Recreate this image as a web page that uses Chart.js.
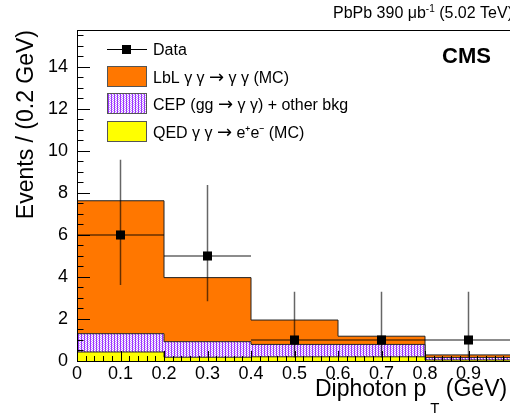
<!DOCTYPE html>
<html>
<head>
<meta charset="utf-8">
<script src="https://cdn.jsdelivr.net/npm/chart.js@4.4.1/dist/chart.umd.min.js"></script>
<style>
html, body { margin: 0; padding: 0; background: #fff; overflow: hidden; }
#wrap { width: 510px; height: 413px; overflow: hidden; }
</style>
</head>
<body>
<div id="wrap"><canvas id="histo" width="520" height="413"></canvas></div>
<script>
// bin edges of the diphoton pT histogram (GeV)
const binEdges = [0, 0.2, 0.4, 0.6, 0.8, 1.0];
// stacked MC contributions (events per bin), bottom to top
const qedValues = [0.43, 0.18, 0.2, 0.2, 0.05];
const cepValues = [0.87, 0.74, 0.59, 0.59, 0.12];
const lblValues = [6.33, 3.05, 1.16, 0.39, 0.12];
// data points with poisson error bars
const dataX = [0.1, 0.3, 0.5, 0.7, 0.9];
const dataY = [6, 5, 1, 1, 1];
const dataLow = [3.62, 2.84, 0.17, 0.17, 0.17];
const dataHigh = [9.58, 8.38, 3.3, 3.3, 3.3];
// axis ticks
const xTicks = [0, 0.1, 0.2, 0.3, 0.4, 0.5, 0.6, 0.7, 0.8, 0.9];
const xTickLabels = ['0', '0.1', '0.2', '0.3', '0.4', '0.5', '0.6', '0.7', '0.8', '0.9'];
const yTicks = [0, 2, 4, 6, 8, 10, 12, 14];
const yTickLabels = ['0', '2', '4', '6', '8', '10', '12', '14'];
const legendLabels = ['Data', 'LbL \u03b3 \u03b3 \u2192 \u03b3 \u03b3 (MC)', 'CEP (gg \u2192 \u03b3 \u03b3) + other bkg', 'QED \u03b3 \u03b3 \u2192 e\u207ae\u207b (MC)'];

const FONT = "'Liberation Sans', Arial, Helvetica, sans-serif";
const ORANGE = '#ff7700';
const YELLOW = '#ffff00';

// ROOT-like purple hatch
function makePattern() {
    const c = document.createElement('canvas');
    c.width = 3; c.height = 2;
    const g = c.getContext('2d');
    const cols = [['#9a35ff', '#ffffff', '#cf9cff'], ['#9a35ff', '#cf9cff', '#ffffff']];
    for (let r = 0; r < 2; r++) {
        for (let k = 0; k < 3; k++) {
            g.fillStyle = cols[r][k];
            g.fillRect(k, r, 1, 1);
        }
    }
    return g.createPattern(c, 'repeat');
}
const purple = makePattern();

function stepPoints(vals) {
    return binEdges.map((x, i) => ({ x: x, y: vals[Math.min(i, vals.length - 1)] }));
}

// legend text with a wider arrow glyph
function drawLabel(ctx, text, x, y) {
    const parts = text.split('\u2192');
    parts.forEach((p, i) => {
        ctx.font = '16px ' + FONT;
        ctx.fillText(p, x, y);
        x += ctx.measureText(p).width;
        if (i < parts.length - 1) {
            ctx.font = "18px 'DejaVu Sans'";
            ctx.fillText('\u2192', x, y);
            x += ctx.measureText('\u2192').width;
        }
    });
}

const histDefaults = {
    type: 'line',
    stepped: true,
    borderColor: '#222',
    borderWidth: 1,
    pointRadius: 0,
    stack: 'mc',
    order: 1
};

// error bars under the data markers
const errorBars = {
    id: 'errorBars',
    beforeDatasetDraw(chart, args) {
        if (args.index !== 3) return;
        const ctx = chart.ctx;
        const x = chart.scales.x, y = chart.scales.y;
        ctx.save();
        ctx.strokeStyle = 'rgba(0,0,0,0.6)';
        ctx.lineWidth = 1.5;
        ctx.beginPath();
        dataX.forEach((v, i) => {
            const px = x.getPixelForValue(v);
            const py = y.getPixelForValue(dataY[i]);
            ctx.moveTo(x.getPixelForValue(v - 0.1), py);
            ctx.lineTo(x.getPixelForValue(v + 0.1), py);
            ctx.moveTo(px, y.getPixelForValue(dataLow[i]));
            ctx.lineTo(px, y.getPixelForValue(dataHigh[i]));
        });
        ctx.stroke();
        ctx.restore();
    }
};

// frame, inward ticks, legend and texts
const decorations = {
    id: 'decorations',
    afterDatasetsDraw(chart) {
        const ctx = chart.ctx;
        const a = chart.chartArea;
        const x = chart.scales.x, y = chart.scales.y;
        ctx.save();
        ctx.strokeStyle = '#000';
        ctx.lineWidth = 1;
        ctx.beginPath();
        ctx.moveTo(a.left + 0.5, a.top + 0.5);
        ctx.lineTo(a.right, a.top + 0.5);
        ctx.moveTo(a.left + 0.5, a.top);
        ctx.lineTo(a.left + 0.5, a.bottom + 0.5);
        ctx.lineTo(a.right, a.bottom + 0.5);
        // x ticks
        for (let v = 0; v <= 1.0001; v += 0.02) {
            const major = Math.abs(v * 10 - Math.round(v * 10)) < 0.001;
            const px = Math.round(x.getPixelForValue(v)) + 0.5;
            ctx.moveTo(px, a.bottom);
            ctx.lineTo(px, a.bottom - (major ? 10 : 5));
        }
        // y ticks
        for (let v = 0; v <= y.max; v += 0.5) {
            const major = v % 2 === 0;
            const py = Math.round(y.getPixelForValue(v)) + 0.5;
            ctx.moveTo(a.left, py);
            ctx.lineTo(a.left + (major ? 13 : 6.5), py);
        }
        ctx.stroke();
        ctx.restore();
    },
    afterDraw(chart) {
        const ctx = chart.ctx;
        ctx.save();
        ctx.fillStyle = '#000';
        ctx.textBaseline = 'alphabetic';

        // legend
        ctx.strokeStyle = '#000';
        ctx.lineWidth = 1;
        ctx.beginPath();
        ctx.moveTo(107, 49.5);
        ctx.lineTo(147, 49.5);
        ctx.stroke();
        ctx.fillRect(122, 45, 9, 9);
        const boxes = [[ORANGE, 66], [purple, 93], [YELLOW, 121]];
        boxes.forEach(([fill, top]) => {
            ctx.fillStyle = fill;
            ctx.fillRect(107, top, 39, 20);
            ctx.strokeStyle = '#555';
            ctx.strokeRect(107.5, top + 0.5, 39, 20);
        });
        ctx.fillStyle = '#000';
        const baselines = [55, 83, 110, 138];
        legendLabels.forEach((t, i) => drawLabel(ctx, t, 153, baselines[i]));

        // CMS label
        ctx.font = 'bold 22px ' + FONT;
        ctx.fillText('CMS', 442, 63);

        // luminosity text
        ctx.font = '16px ' + FONT;
        let tx = 333;
        ctx.fillText('PbPb 390 \u03bcb', tx, 18);
        tx += ctx.measureText('PbPb 390 \u03bcb').width;
        ctx.font = '10px ' + FONT;
        ctx.fillText('-1', tx, 12);
        tx += ctx.measureText('-1').width;
        ctx.font = '16px ' + FONT;
        ctx.fillText(' (5.02 TeV)', tx, 18);

        // x title
        ctx.font = '23px ' + FONT;
        let xx = 315;
        ctx.fillText('Diphoton p', xx, 396);
        xx += ctx.measureText('Diphoton p').width + 4;
        ctx.font = '15px ' + FONT;
        ctx.fillText('T', xx, 413);
        xx += ctx.measureText('T').width;
        ctx.font = '23px ' + FONT;
        ctx.fillText(' (GeV)', xx, 396);

        // y title
        ctx.translate(33, 30);
        ctx.rotate(-Math.PI / 2);
        ctx.textAlign = 'right';
        ctx.fillText('Events / (0.2 GeV)', 0, 0);
        ctx.restore();
    }
};

new Chart(document.getElementById('histo'), {
    type: 'line',
    data: {
        datasets: [
            Object.assign({}, histDefaults, { label: 'QED', data: stepPoints(qedValues), fill: 'origin', backgroundColor: YELLOW }),
            Object.assign({}, histDefaults, { label: 'CEP', data: stepPoints(cepValues), fill: '-1', backgroundColor: purple }),
            Object.assign({}, histDefaults, { label: 'LbL', data: stepPoints(lblValues), fill: '-1', backgroundColor: ORANGE }),
            {
                label: 'Data',
                data: dataX.map((v, i) => ({ x: v, y: dataY[i] })),
                showLine: false,
                pointStyle: 'rect',
                pointRadius: 6.4,
                pointBackgroundColor: '#000',
                pointBorderWidth: 0,
                stack: 'data',
                order: 0
            }
        ]
    },
    options: {
        responsive: false,
        animation: false,
        layout: { padding: { top: 30, right: 8, left: 0, bottom: 0 } },
        plugins: { legend: { display: false }, tooltip: { enabled: false } },
        scales: {
            x: {
                type: 'linear',
                min: 0,
                max: 1.0,
                grid: { display: false, drawTicks: false },
                border: { display: false },
                afterBuildTicks: s => { s.ticks = xTicks.map(v => ({ value: v })); },
                afterFit: s => { s.height = 52; },
                ticks: {
                    color: '#000',
                    font: { family: FONT, size: 18 },
                    padding: 2,
                    maxRotation: 0,
                    autoSkip: false,
                    callback: (v, i) => xTickLabels[i]
                }
            },
            y: {
                type: 'linear',
                stacked: true,
                min: 0,
                max: 15.76,
                grid: { display: false, drawTicks: false },
                border: { display: false },
                afterBuildTicks: s => { s.ticks = yTicks.map(v => ({ value: v })); },
                afterFit: s => { s.width = 77; },
                ticks: {
                    color: '#000',
                    font: { family: FONT, size: 18 },
                    padding: 9,
                    callback: (v, i) => yTickLabels[i]
                }
            }
        }
    },
    plugins: [errorBars, decorations]
});
</script>
</body>
</html>
